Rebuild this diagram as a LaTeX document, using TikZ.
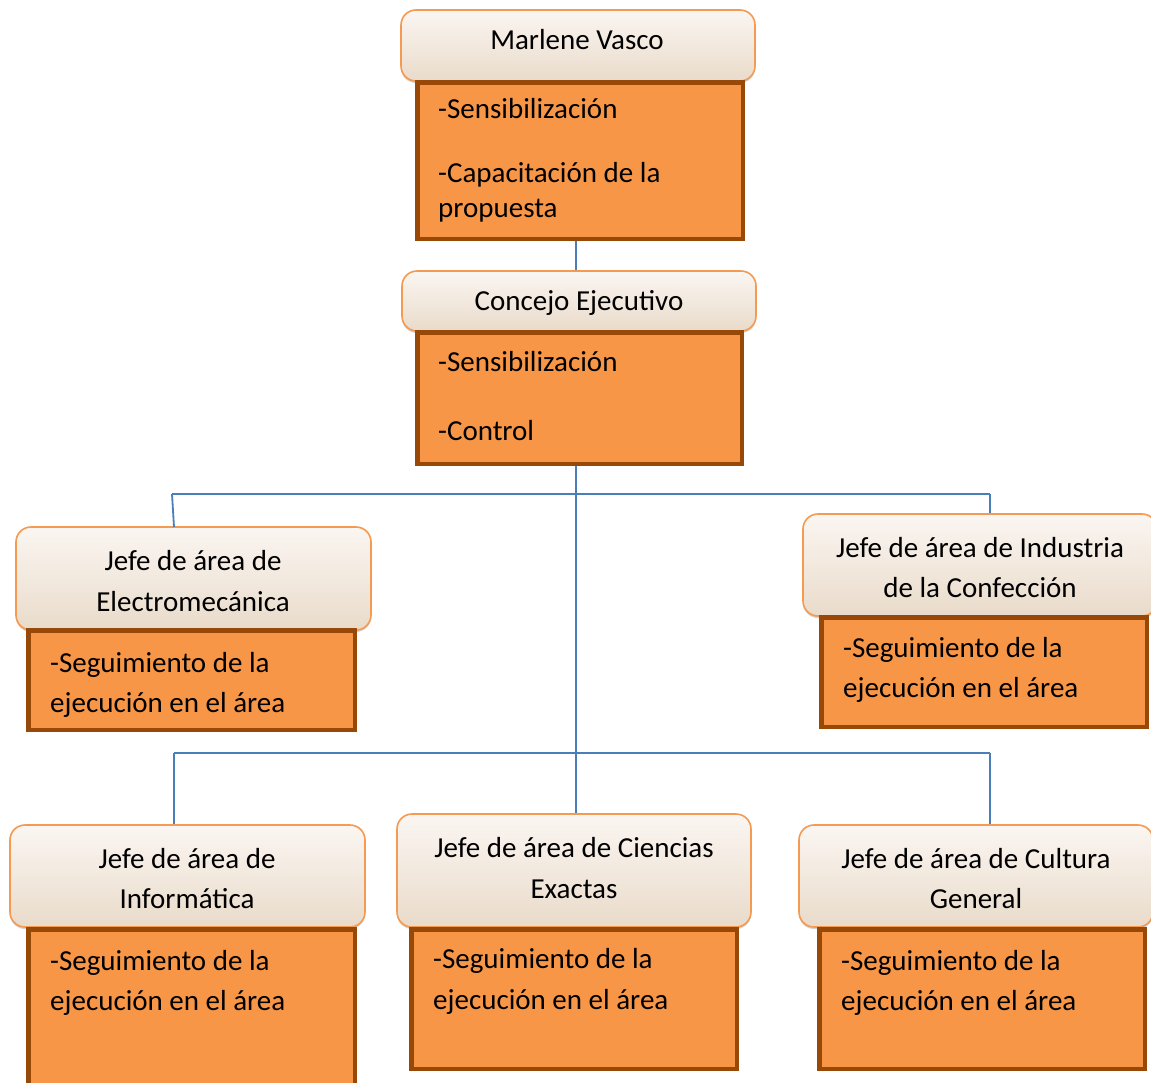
\documentclass[tikz,border=0pt]{standalone}
\usepackage{fontspec}
\setmainfont{Carlito}
\usetikzlibrary{shadows}
\definecolor{bodyfill}{HTML}{F79646}
\definecolor{bodyline}{HTML}{984807}
\definecolor{hdrline}{HTML}{F59A52}
\definecolor{hdrtop}{HTML}{FBF6F2}
\definecolor{hdrbot}{HTML}{E9DBCA}
\definecolor{conn}{HTML}{4A7EBB}
\tikzset{
  hdr/.style={draw=hdrline, line width=1.6pt, rounded corners=15pt, top color=hdrtop, bottom color=hdrbot,
    drop shadow={shadow xshift=0pt, shadow yshift=-2pt, opacity=0.35, fill=gray}, inner sep=0pt},
  bodybox/.style={draw=bodyline, fill=bodyfill, line width=4.5pt, inner sep=0pt},
  htxt/.style={anchor=base, inner sep=0pt, font=\fontsize{29}{40}\selectfont},
  btxt/.style={anchor=base west, inner sep=0pt, font=\fontsize{29}{40}\selectfont},
  link/.style={draw=conn, line width=1.8pt}
}
\begin{document}
\begin{tikzpicture}[x=1pt, y=-1pt]
\useasboundingbox[fill=white] (0,0) rectangle (1151,1082);
% headers
\node[hdr, minimum width=354pt, minimum height=71pt] (h1) at (578,45.5) {};
\node[hdr, minimum width=354pt, minimum height=60pt] (h2) at (579,301) {};
\node[hdr, minimum width=355pt, minimum height=103pt] (h3) at (193.5,578.5) {};
\node[hdr, minimum width=354pt, minimum height=102pt] (h4) at (980,565) {};
\node[hdr, minimum width=355pt, minimum height=102pt] (h5) at (187.5,876) {};
\node[hdr, minimum width=354pt, minimum height=113pt] (h6) at (574,870.5) {};
\node[hdr, minimum width=354pt, minimum height=102pt] (h7) at (976,876) {};
% bodies
\node[bodybox, minimum width=325.5pt, minimum height=156.5pt] (b1) at (580,160.5) {};
\node[bodybox, minimum width=324.5pt, minimum height=131.5pt] (b2) at (579.5,398) {};
\node[bodybox, minimum width=326.5pt, minimum height=99.5pt] (b3) at (191.5,680) {};
\node[bodybox, minimum width=325.5pt, minimum height=109.5pt] (b4) at (984,672) {};
\node[bodybox, minimum width=326.5pt, minimum height=158.5pt] (b5) at (191.5,1008.5) {};
\node[bodybox, minimum width=325.5pt, minimum height=139.5pt] (b6) at (574,999) {};
\node[bodybox, minimum width=325.5pt, minimum height=139.5pt] (b7) at (982,999) {};
% header texts
\node[htxt] (t1) at (577,49) {Marlene Vasco};
\node[htxt] (t2) at (579,310) {Concejo Ejecutivo};
\node[htxt] (t3a) at (193,570) {Jefe de área de};
\node[htxt] (t3b) at (193,611) {Electromecánica};
\node[htxt] (t4a) at (980,557) {Jefe de área de Industria};
\node[htxt] (t4b) at (980,597) {de la Confección};
\node[htxt] (t5a) at (187,868) {Jefe de área de};
\node[htxt] (t5b) at (187,908) {Informática};
\node[htxt] (t6a) at (574,857) {Jefe de área de Ciencias};
\node[htxt] (t6b) at (574,898) {Exactas};
\node[htxt] (t7a) at (976,868) {Jefe de área de Cultura};
\node[htxt] (t7b) at (976,908) {General};
% body texts
\node[btxt] (s1a) at (438,118) {-Sensibilización};
\node[btxt] (s1b) at (438,182) {-Capacitación de la};
\node[btxt] (s1c) at (438,217) {propuesta};
\node[btxt] (s2a) at (438,371) {-Sensibilización};
\node[btxt] (s2b) at (438,440) {-Control};
\node[btxt] (s3a) at (50,672) {-Seguimiento de la};
\node[btxt] (s3b) at (50,712) {ejecución en el área};
\node[btxt] (s4a) at (843,657) {-Seguimiento de la};
\node[btxt] (s4b) at (843,697) {ejecución en el área};
\node[btxt] (s5a) at (50,970) {-Seguimiento de la};
\node[btxt] (s5b) at (50,1010) {ejecución en el área};
\node[btxt] (s6a) at (433,968) {-Seguimiento de la};
\node[btxt] (s6b) at (433,1009) {ejecución en el área};
\node[btxt] (s7a) at (841,970) {-Seguimiento de la};
\node[btxt] (s7b) at (841,1010) {ejecución en el área};
% junctions
\coordinate (j1) at (172,494);
\coordinate (j2) at (990,494);
\coordinate (j3) at (174,753);
\coordinate (j4) at (990,753);
\coordinate (e3) at (174,527);
% connectors
\draw[link] (b1.south -| 576,0) -- (h2.north -| 576,0);
\draw[link] (b2.south -| 576,0) -- (h6.north -| 576,0);
\draw[link] (j1) -- (j2);
\draw[link] (j1) -- (e3);
\draw[link] (j2) -- (j2 |- h4.north);
\draw[link] (j3) -- (j4);
\draw[link] (j3) -- (j3 |- h5.north);
\draw[link] (j4) -- (j4 |- h7.north);
\end{tikzpicture}
\end{document}
